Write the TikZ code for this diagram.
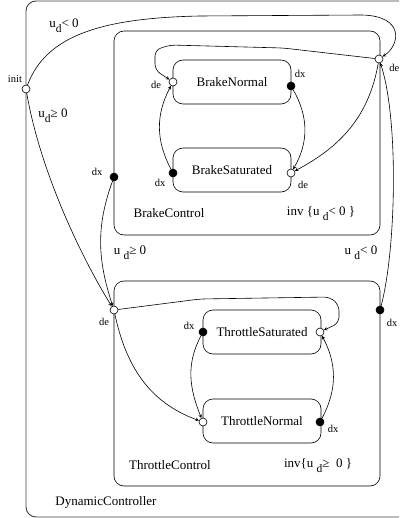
\documentclass[tikz,border=0pt]{standalone}
\usepackage{fontspec}
\setmainfont{Liberation Serif}
\usetikzlibrary{arrows, calc, positioning}
\tikzstyle{box} = [rectangle, rounded corners=10pt, draw=black, inner sep=0pt]
\tikzstyle{state} = [rectangle, rounded corners=10pt, draw=black, minimum width=118pt,
	minimum height=44pt, font=\fontsize{13}{15}\selectfont]
\tikzstyle{entry} = [circle, draw=black, fill=white, inner sep=0pt, minimum size=8pt]
\tikzstyle{exit} = [circle, draw=black, fill=black, inner sep=0pt, minimum size=8pt]
\tikzstyle{portlabel} = [inner sep=0pt, font=\fontsize{10.5}{12}\selectfont]
\tikzstyle{guard} = [inner sep=0pt, font=\fontsize{13}{15}\selectfont]
\tikzstyle{arrow} = [->, >=stealth]
\newcommand{\lowd}{\raisebox{-0.85ex}{\fontsize{11.5}{12}\selectfont d}}

\begin{document}
\begin{tikzpicture}[x=1pt, y=-1pt, line width=0.6pt]
	\useasboundingbox (0,0) rectangle (399,518);
	\clip (0,0) rectangle (399,518);

	% set up boxes
	\node (DynamicController) [box, line width=0.9pt, draw=black!75, minimum width=404pt, minimum height=516pt] at (228,259) {};
	\node (BrakeControl) [box, minimum width=266pt, minimum height=204pt] at (247,133) {};
	\node (ThrottleControl) [box, minimum width=266pt, minimum height=205pt] at (247,383.5) {};
	\node (dc-name) [guard] at (106,502) {DynamicController};
	\node (bc-name) [guard] at (169,213) {BrakeControl};
	\node (bc-inv) [guard] at (321,214) {inv \{u \lowd< 0 \}};
	\node (tc-name) [guard] at (170,465) {ThrottleControl};
	\node (tc-inv) [guard] at (318,466) {inv\{u \lowd≥~ 0 \}};

	% set up states
	\node (BrakeNormal) [state] at (232,82) {BrakeNormal};
	\node (BrakeSaturated) [state] at (232,170) {BrakeSaturated};
	\node (ThrottleSaturated) [state] at (262,332) {ThrottleSaturated};
	\node (ThrottleNormal) [state] at (262,421) {ThrottleNormal};

	% set up ports
	\node (init) [entry] at (26,89) {};
	\node (bc-de) [entry] at (379,59) {};
	\node (bc-dx) [exit] at (114,177) {};
	\node (tc-de) [entry] at (114,310) {};
	\node (tc-dx) [exit] at (380,310) {};
	\node (bn-de) [entry] at (173,82) {};
	\node (bn-dx) [exit] at (291,86) {};
	\node (bs-dx) [exit] at (173,173) {};
	\node (bs-de) [entry] at (291,173) {};
	\node (ts-dx) [exit] at (203,332) {};
	\node (ts-de) [entry] at (320,332) {};
	\node (tn-de) [entry] at (203,422) {};
	\node (tn-dx) [exit] at (320,422) {};

	% set up port labels
	\node (init-l) [portlabel] at (15,79) {init};
	\node (bc-de-l) [portlabel, anchor=west] at (389,68) {de};
	\node (bc-dx-l) [portlabel] at (97,172) {dx};
	\node (tc-de-l) [portlabel] at (104,322) {de};
	\node (tc-dx-l) [portlabel] at (392,323) {dx};
	\node (bn-de-l) [portlabel] at (156,85) {de};
	\node (bn-dx-l) [portlabel] at (300,74) {dx};
	\node (bs-dx-l) [portlabel] at (160,183) {dx};
	\node (bs-de-l) [portlabel] at (303,185) {de};
	\node (ts-dx-l) [portlabel] at (189,326) {dx};
	\node (tn-dx-l) [portlabel] at (333,429) {dx};

	% set up transitions
	\draw [arrow] (init) .. controls (46,36) and (100,18) .. (200,16) -- (362,15)
		.. controls (405,16) and (400,45) .. (bc-de);
	\draw [arrow] (init) .. controls (40,170) and (80,255) .. (tc-de);
	\draw [arrow, rounded corners=6pt] (bc-de) -- (283,48) -- (170,45) -- (155,50) -- (155,70) -- (bn-de);
	\draw [arrow] (bc-de) to[out=-100, in=28] (bs-de);
	\draw [arrow] (bn-dx) to[out=-60, in=60] (bs-de);
	\draw [arrow] (bs-dx) to[out=118, in=-118] (bn-de);
	\draw [arrow] (bc-dx) to[out=-110, in=108] (tc-de);
	\draw [arrow, rounded corners=6pt] (tc-de) -- (200,299) -- (330,297) -- (339,305) -- (339,323) -- (ts-de);
	\draw [arrow] (tc-de) to[out=-78, in=160] (tn-de);
	\draw [arrow] (ts-dx) to[out=-118, in=112] (tn-de);
	\draw [arrow] (tn-dx) to[out=62, in=-62] (ts-de);
	\draw [arrow] (tc-dx) .. controls (396,250) and (399,120) .. (bc-de);

	% set up guards
	\node (g-brake) [guard] at (64,26) {u\lowd< 0};
	\node (g-throttle) [guard] at (53,116) {u\lowd≥ 0};
	\node (g-to-throttle) [guard] at (130,253) {u \lowd≥ 0};
	\node (g-to-brake) [guard] at (361,253) {u \lowd< 0};

\end{tikzpicture}
\end{document}
